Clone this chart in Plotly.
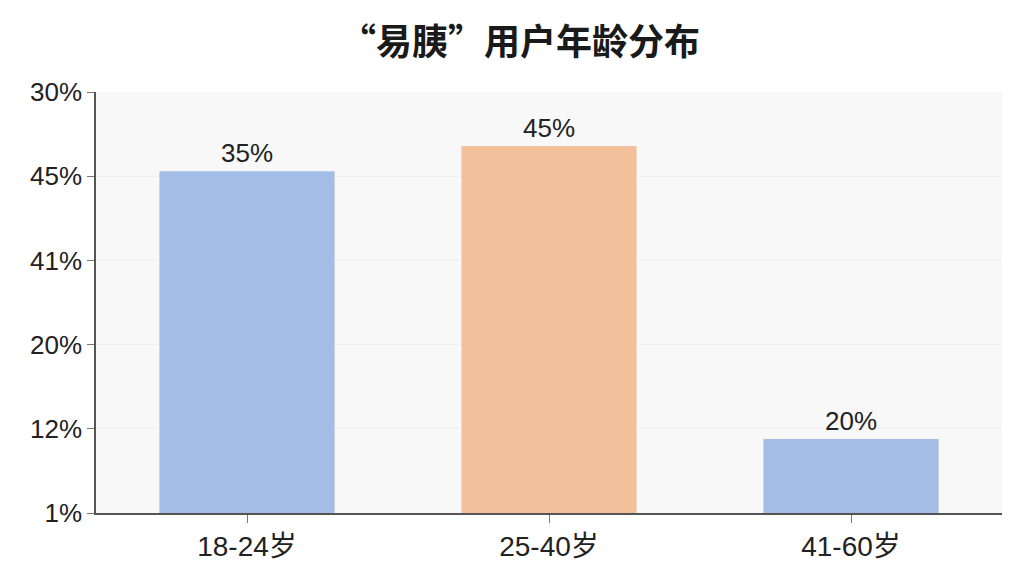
import plotly.graph_objects as go

categories = ["18-24岁", "25-40岁", "41-60岁"]
bar_heights = [4.06, 4.36, 0.88]          # visual heights in axis-tick units
bar_labels = ["35%", "45%", "20%"]
bar_colors = ["#a3bde7", "#f2c19c", "#a3bde7"]
tick_positions = [0, 1, 2, 3, 4, 5]
tick_labels = ["1%", "12%", "20%", "41%", "45%", "30%"]

fig = go.Figure(go.Bar(
    x=categories, y=bar_heights, text=bar_labels, textposition="outside",
    marker=dict(color=bar_colors, line=dict(width=0)),
    textfont=dict(size=26, color="#222222", family="Liberation Sans, Arial, sans-serif"),
    cliponaxis=False, width=0.58,
))

fig.update_layout(
    width=1024, height=576,
    margin=dict(l=88, r=30, t=84, b=71),
    paper_bgcolor="white", plot_bgcolor="#f8f8f8",
    title=dict(text="<b>“易胰”用户年龄分布</b>", x=0.5, xanchor="center", y=0.94, yanchor="middle",
               font=dict(size=36, color="#1a1a1a", family="Noto Sans CJK SC, sans-serif")),
    showlegend=False, bargap=0.42,
    font=dict(family="Liberation Sans, Noto Sans CJK SC, sans-serif", color="#222222"),
)
fig.update_yaxes(
    range=[0, 5], tickvals=tick_positions, ticktext=tick_labels,
    showline=True, linecolor="#555555", linewidth=1.5, ticks="outside", ticklen=7,
    tickcolor="#777777", showgrid=True, gridcolor="#efefef", zeroline=False,
    tickfont=dict(size=26, color="#222222", family="Liberation Sans, Arial, sans-serif"),
)
fig.update_xaxes(
    showline=True, linecolor="#555555", linewidth=1.5, ticks="outside", ticklen=8,
    tickcolor="#777777", showgrid=False,
    tickfont=dict(size=28, color="#222222", family="Liberation Sans, Noto Sans CJK SC, sans-serif"),
)
fig.write_html("out.html")
